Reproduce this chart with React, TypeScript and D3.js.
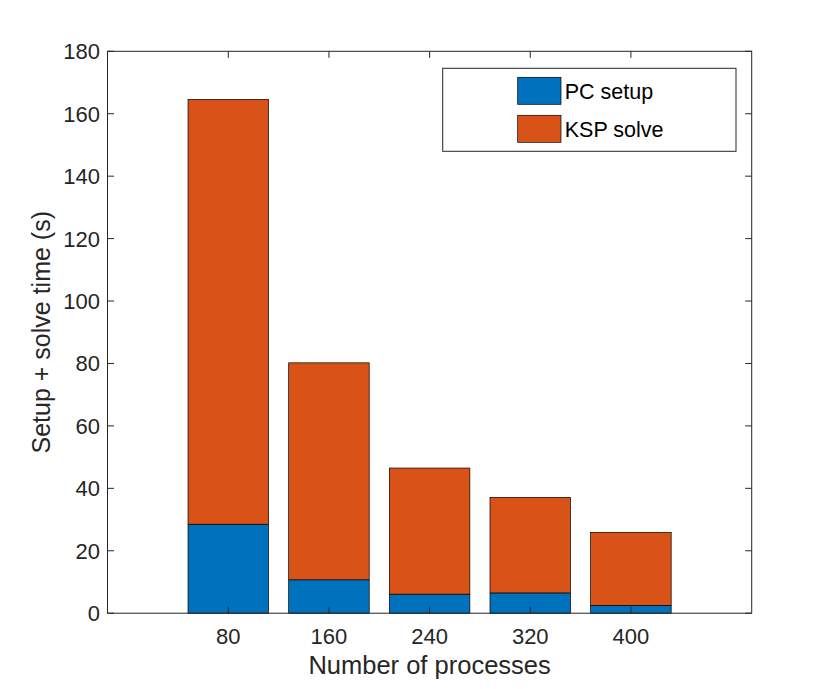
import { useRef, useEffect } from 'react';
import * as d3 from 'd3';

const processes = [80, 160, 240, 320, 400];
const pcSetup = [28.5, 10.7, 6.1, 6.5, 2.5];
const kspSolve = [136.1, 69.5, 40.4, 30.6, 23.4];
const yTicks = [0, 20, 40, 60, 80, 100, 120, 140, 160, 180];
const seriesNames = ['PC setup', 'KSP solve'];
const seriesColors = ['#0072BD', '#D95319'];

const W = 830;
const H = 689;
const margin = { top: 51.3, right: 78.3, bottom: 75.8, left: 107.5 };
const FONT = '"Liberation Sans", Arial, Helvetica, sans-serif';
const AXIS = '#262626';

export default function App() {
  const svgRef = useRef<SVGSVGElement>(null);

  useEffect(() => {
    if (!svgRef.current) return;
    const svg = d3.select(svgRef.current);
    svg.selectAll('*').remove();

    const innerW = W - margin.left - margin.right;
    const innerH = H - margin.top - margin.bottom;

    const x = d3.scaleLinear().domain([-16, 496]).range([0, innerW]);
    const y = d3.scaleLinear().domain([0, 180]).range([innerH, 0]);
    const barW = x(64) - x(0);

    const g = svg
      .append('g')
      .attr('transform', `translate(${margin.left},${margin.top})`);

    // stacked bars
    const rows = processes.map((p, i) => ({ p, pc: pcSetup[i], ksp: kspSolve[i] }));
    const stack = d3.stack<{ p: number; pc: number; ksp: number }>().keys(['pc', 'ksp']);
    const layers = stack(rows);

    layers.forEach((layer, li) => {
      g.selectAll(null)
        .data(layer)
        .enter()
        .append('rect')
        .attr('x', (d) => x(d.data.p) - barW / 2)
        .attr('y', (d) => y(d[1]))
        .attr('width', barW)
        .attr('height', (d) => y(d[0]) - y(d[1]))
        .attr('fill', seriesColors[li])
        .attr('stroke', '#000')
        .attr('stroke-width', 0.7);
    });

    // axes box
    g.append('rect')
      .attr('x', 0)
      .attr('y', 0)
      .attr('width', innerW)
      .attr('height', innerH)
      .attr('fill', 'none')
      .attr('stroke', AXIS)
      .attr('stroke-width', 1);

    const tickLen = 6.5;

    // x ticks (bottom + top, inward)
    processes.forEach((p) => {
      g.append('line')
        .attr('x1', x(p)).attr('x2', x(p))
        .attr('y1', innerH).attr('y2', innerH - tickLen)
        .attr('stroke', AXIS);
      g.append('line')
        .attr('x1', x(p)).attr('x2', x(p))
        .attr('y1', 0).attr('y2', tickLen)
        .attr('stroke', AXIS);
      g.append('text')
        .attr('x', x(p))
        .attr('y', innerH + 31)
        .attr('text-anchor', 'middle')
        .attr('font-family', FONT)
        .attr('font-size', 22)
        .attr('fill', AXIS)
        .text(p);
    });

    // y ticks (left + right, inward)
    yTicks.forEach((t) => {
      g.append('line')
        .attr('x1', 0).attr('x2', tickLen)
        .attr('y1', y(t)).attr('y2', y(t))
        .attr('stroke', AXIS);
      g.append('line')
        .attr('x1', innerW).attr('x2', innerW - tickLen)
        .attr('y1', y(t)).attr('y2', y(t))
        .attr('stroke', AXIS);
      g.append('text')
        .attr('x', -7.5)
        .attr('y', y(t))
        .attr('dy', '0.36em')
        .attr('text-anchor', 'end')
        .attr('font-family', FONT)
        .attr('font-size', 22)
        .attr('fill', AXIS)
        .text(t);
    });

    // axis labels
    g.append('text')
      .attr('x', innerW / 2)
      .attr('y', innerH + 61)
      .attr('text-anchor', 'middle')
      .attr('font-family', FONT)
      .attr('font-size', 25.5)
      .attr('fill', AXIS)
      .text('Number of processes');

    g.append('text')
      .attr('transform', `translate(${-57.5},${innerH / 2}) rotate(-90)`)
      .attr('text-anchor', 'middle')
      .attr('font-family', FONT)
      .attr('font-size', 25)
      .attr('fill', AXIS)
      .text('Setup + solve time (s)');

    // legend
    const lg = svg.append('g').attr('transform', 'translate(442.7,68.3)');
    lg.append('rect')
      .attr('width', 293.3)
      .attr('height', 83)
      .attr('fill', '#fff')
      .attr('stroke', AXIS)
      .attr('stroke-width', 1);
    seriesNames.forEach((name, i) => {
      const yy = 9 + i * 38;
      lg.append('rect')
        .attr('x', 75)
        .attr('y', yy)
        .attr('width', 43.3)
        .attr('height', 27)
        .attr('fill', seriesColors[i])
        .attr('stroke', '#000')
        .attr('stroke-width', 0.7);
      lg.append('text')
        .attr('x', 122)
        .attr('y', yy + 13.5)
        .attr('dy', '0.36em')
        .attr('font-family', FONT)
        .attr('font-size', 21.5)
        .attr('fill', '#000')
        .text(name);
    });
  }, []);

  return (
    <div style={{ position: 'absolute', left: 0, top: 0 }}>
      <svg ref={svgRef} width={W} height={H} style={{ display: 'block', background: '#fff' }} />
    </div>
  );
}
